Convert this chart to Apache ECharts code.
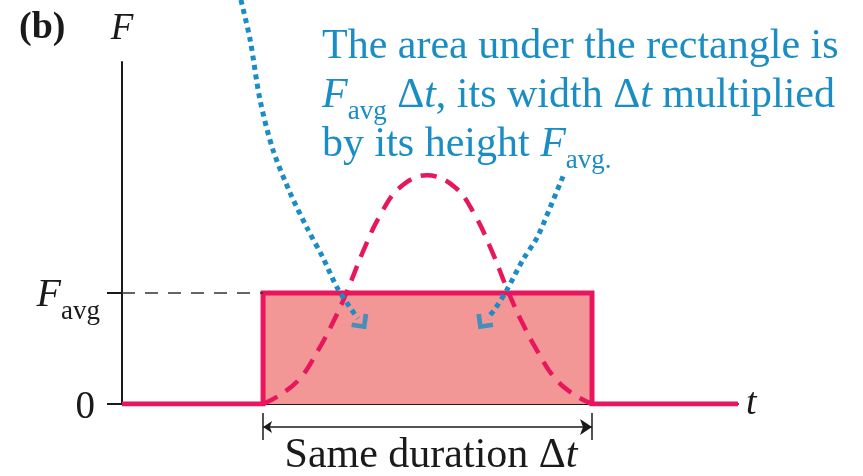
<!DOCTYPE html>
<html>
<head>
<meta charset="utf-8">
<title>Impulse: same area under the curve</title>
<script src="https://cdn.jsdelivr.net/npm/echarts@6/dist/echarts.min.js"></script>
<style>
  html, body { margin: 0; padding: 0; background: #fff; }
  #chart { width: 863px; height: 476px; }
</style>
</head>
<body>
<div id="chart"></div>
<script>
// t in arbitrary units (0..10), F in units of F_avg
const tMax = 10;
const fMax = 3.08;
const yTickValues = [0, 1];

// F(t) of the real collision (dashed hump)
const forceCurve = [
  [2.29, 0], [2.56, 0.08], [2.89, 0.23], [3.17, 0.47], [3.43, 0.74],
  [3.65, 1.01], [3.91, 1.37], [4.19, 1.70], [4.51, 1.95], [4.95, 2.06],
  [5.41, 1.95], [5.73, 1.70], [6.01, 1.37], [6.27, 1.01], [6.49, 0.74],
  [6.75, 0.47], [7.03, 0.23], [7.35, 0.08], [7.63, 0]
];
// constant force F_avg over the same duration
const avgForce = [[0, 0], [2.29, 0], [2.29, 1], [7.63, 1], [7.63, 0], [10, 0]];
const avgGuide = [[0, 1], [2.29, 1]];

// blue pointers from the caption
const leftPointer = [
  [1.93, 3.64], [2.08, 3.28], [2.24, 2.74], [2.45, 2.29], [2.73, 1.90],
  [3.00, 1.59], [3.26, 1.32], [3.49, 1.05], [3.70, 0.87], [3.83, 0.77]
];
const rightPointer = [
  [7.16, 2.05], [6.95, 1.77], [6.74, 1.50], [6.51, 1.30], [6.25, 1.03],
  [6.06, 0.86], [5.93, 0.77]
];
const pointerTips = [[3.86, 0.75], [5.89, 0.75]];

// "Same duration" bracket
const durationStart = 2.29;
const durationEnd = 7.63;
const bracketY = -0.207;
const bracketTick = [-0.081, -0.324];

const pink = '#E8175D';
const fillPink = '#F29696';
const blue = '#1A8DC4';
const ink = '#1a1a1a';
const serif = '"Liberation Serif", "Times New Roman", serif';

const chart = echarts.init(document.getElementById('chart'));

const option = {
  backgroundColor: '#fff',
  animation: false,
  grid: { left: 122, right: 125, top: 62, bottom: 72 },
  xAxis: {
    type: 'value',
    min: 0,
    max: tMax,
    name: 't',
    nameLocation: 'end',
    nameGap: 8,
    nameTextStyle: { fontFamily: serif, fontStyle: 'italic', fontSize: 38, color: ink, padding: [4, 0, 0, 0] },
    axisLine: { lineStyle: { color: ink, width: 2 } },
    axisTick: { show: false },
    axisLabel: { show: false },
    splitLine: { show: false }
  },
  yAxis: {
    type: 'value',
    min: 0,
    max: fMax,
    name: 'F',
    nameLocation: 'end',
    nameGap: 14,
    nameTextStyle: { fontFamily: serif, fontStyle: 'italic', fontSize: 37, color: ink, align: 'center' },
    axisLine: { show: true, lineStyle: { color: ink, width: 2 } },
    axisTick: { show: true, customValues: yTickValues, length: 15, lineStyle: { color: ink, width: 2 } },
    axisLabel: {
      customValues: yTickValues,
      margin: 22,
      fontFamily: serif,
      fontSize: 38,
      color: ink,
      formatter: function (v) {
        return v === 0 ? '{n|0}' : '{F|F}{s|avg}';
      },
      rich: {
        n: { fontFamily: serif, fontSize: 39, color: ink, lineHeight: 40, padding: [8, 5, 0, 0] },
        F: { fontFamily: serif, fontStyle: 'italic', fontSize: 40, color: ink, lineHeight: 40, padding: [6, 0, 0, 0] },
        s: { fontFamily: serif, fontSize: 27, color: ink, lineHeight: 10, padding: [25, 0, 0, 0], verticalAlign: 'top' }
      }
    },
    splitLine: { show: false }
  },
  series: [
    {
      name: 'F_avg',
      type: 'line',
      data: avgForce,
      symbol: 'none',
      z: 2,
      lineStyle: { color: pink, width: 5, join: 'miter' },
      areaStyle: { color: fillPink, opacity: 1 }
    },
    {
      name: 'guide',
      type: 'line',
      data: avgGuide,
      symbol: 'none',
      z: 2,
      lineStyle: { color: '#333', width: 1.5, type: [13, 10] }
    },
    {
      name: 'F(t)',
      type: 'line',
      data: forceCurve,
      smooth: 0.4,
      symbol: 'none',
      z: 3,
      lineStyle: { color: pink, width: 4.5, type: [16, 10] }
    },
    {
      name: 'pointer left',
      type: 'line',
      data: leftPointer,
      smooth: 0.3,
      symbol: 'none',
      clip: false,
      z: 4,
      lineStyle: { color: blue, width: 5, type: [5, 4.5], cap: 'butt' }
    },
    {
      name: 'pointer right',
      type: 'line',
      data: rightPointer,
      smooth: 0.3,
      symbol: 'none',
      clip: false,
      z: 4,
      lineStyle: { color: blue, width: 5, type: [5, 4.5], cap: 'butt' }
    },
    {
      name: 'pointer tips',
      type: 'scatter',
      clip: false,
      z: 4,
      symbolSize: 15,
      itemStyle: { color: blue },
      data: [
        { value: pointerTips[0], symbol: 'path://M11,0 L16,0 L16,16 L0,16 L0,11 L11,11 Z', symbolRotate: -8 },
        { value: pointerTips[1], symbol: 'path://M0,0 L5,0 L5,11 L16,11 L16,16 L0,16 Z', symbolRotate: 8 }
      ]
    },
    {
      name: 'duration',
      type: 'lines',
      coordinateSystem: 'cartesian2d',
      clip: false,
      z: 4,
      symbol: ['arrow', 'arrow'],
      symbolSize: [9, 12],
      lineStyle: { color: ink, width: 1.5, opacity: 1 },
      data: [{ coords: [[durationStart, bracketY], [durationEnd, bracketY]] }]
    },
    {
      name: 'duration ticks',
      type: 'lines',
      coordinateSystem: 'cartesian2d',
      clip: false,
      z: 4,
      symbol: 'none',
      lineStyle: { color: ink, width: 1.5, opacity: 1 },
      data: [
        { coords: [[durationStart, bracketTick[0]], [durationStart, bracketTick[1]]] },
        { coords: [[durationEnd, bracketTick[0]], [durationEnd, bracketTick[1]]] }
      ]
    }
  ],
  graphic: [
    {
      type: 'text',
      x: 19,
      y: 28,
      style: {
        text: '(b)',
        font: 'bold 38px ' + serif,
        fill: ink,
        verticalAlign: 'middle'
      }
    },
    {
      type: 'text',
      x: 322,
      y: 22,
      style: {
        text: '{a|The area under the rectangle is}\n' +
              '{F|F}{s|avg}{a| \u0394}{i|t}{a|, its width \u0394}{i|t}{a| multiplied}\n' +
              '{a|by its height }{F|F}{s|avg.}',
        verticalAlign: 'top',
        fill: blue,
        rich: {
          a: { fontFamily: serif, fontSize: 42, lineHeight: 49, fill: blue },
          i: { fontFamily: serif, fontStyle: 'italic', fontSize: 42, lineHeight: 49, fill: blue },
          F: { fontFamily: serif, fontStyle: 'italic', fontSize: 42, lineHeight: 49, fill: blue },
          s: { fontFamily: serif, fontSize: 27, lineHeight: 10, padding: [27, 0, 0, 0], verticalAlign: 'top', fill: blue }
        }
      }
    },
    {
      type: 'text',
      x: 431,
      y: 456,
      style: {
        text: '{a|Same duration \u0394}{i|t}',
        align: 'center',
        verticalAlign: 'middle',
        fill: ink,
        rich: {
          a: { fontFamily: serif, fontSize: 42, lineHeight: 46, fill: ink },
          i: { fontFamily: serif, fontStyle: 'italic', fontSize: 42, lineHeight: 46, fill: ink }
        }
      }
    }
  ]
};

chart.setOption(option);
window.addEventListener('resize', function () { chart.resize(); });
</script>
</body>
</html>
